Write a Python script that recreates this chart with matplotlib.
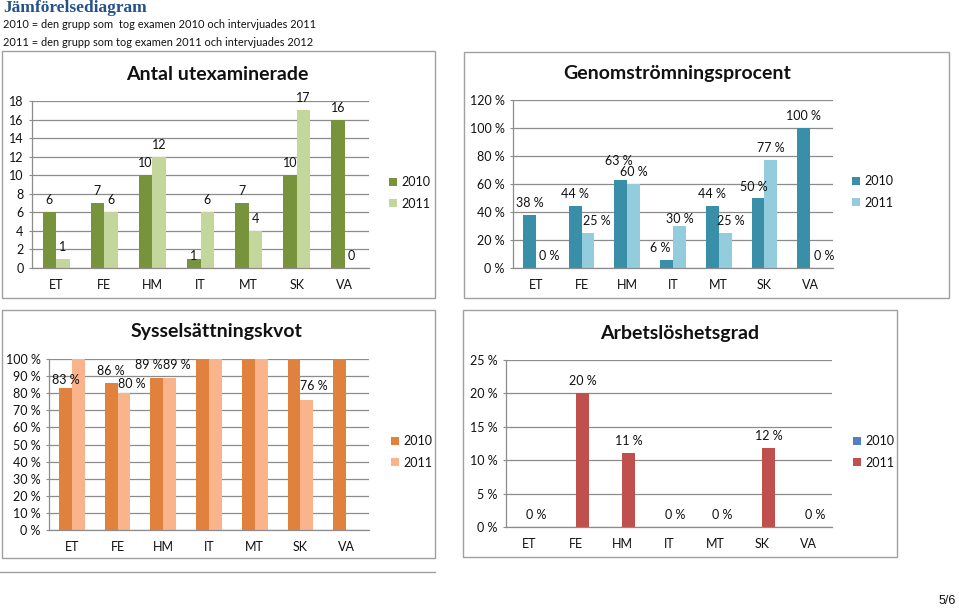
import numpy as np
import matplotlib
matplotlib.use("Agg")
import matplotlib.pyplot as plt
from matplotlib.patches import Rectangle
from matplotlib.lines import Line2D
from matplotlib.ticker import FuncFormatter

plt.rcParams['font.family'] = ['Lato', 'DejaVu Sans']

# ---------------- data ----------------
categories = ["ET", "FE", "HM", "IT", "MT", "SK", "VA"]
series_names = ["2010", "2011"]

antal_2010 = [6, 7, 10, 1, 7, 10, 16]
antal_2011 = [1, 6, 12, 6, 4, 17, 0]

genom_2010 = [38, 44, 63, 6, 44, 50, 100]
genom_2011 = [0, 25, 60, 30, 25, 77, 0]

syssel_2010 = [83, 86, 89, 100, 100, 100, 100]
syssel_2011 = [100, 80, 89, 100, 100, 76, np.nan]

arbets_2010 = [np.nan, np.nan, np.nan, np.nan, np.nan, np.nan, np.nan]
arbets_2011 = [0, 20, 11.1, 0, 0, 11.8, 0]

header_title = "Jämförelsediagram"
header_line1 = "2010 = den grupp som  tog examen 2010 och intervjuades 2011"
header_line2 = "2011 = den grupp som tog examen 2011 och intervjuades 2012"

# ---------------- layout helpers ----------------
W, H = 959, 610
DPI = 100
fig = plt.figure(figsize=(W / DPI, H / DPI), dpi=DPI)
fig.patch.set_facecolor("white")

GRID = "#8c8c8c"
BOX = "#a0a0a0"
TXT = "#111111"


def fx(x):
    return x / W


def fy(y):
    return 1 - y / H


def add_box(l, t, r, b):
    fig.patches.append(Rectangle((fx(l), fy(b)), (r - l) / W, (b - t) / H,
                                 transform=fig.transFigure, fill=False,
                                 ec=BOX, lw=1.0))


def chart(rect, box, title, title_xy, v1, v2, colors, ymax, ystep, pct,
          label_filter, offsets, legend_xy):
    l, t, r, b = rect
    add_box(*box)
    ax = fig.add_axes([fx(l), fy(b), (r - l) / W, (b - t) / H])
    x = np.arange(len(categories))
    w = 0.28
    bars1 = ax.bar(x - w / 2, v1, w, color=colors[0], label=series_names[0], zorder=2)
    bars2 = ax.bar(x + w / 2, v2, w, color=colors[1], label=series_names[1], zorder=2)
    ax.set_xlim(-0.5, len(categories) - 0.5)
    ax.set_ylim(0, ymax)
    ax.set_yticks(np.arange(0, ymax + ystep / 2, ystep))
    if pct:
        ax.yaxis.set_major_formatter(FuncFormatter(lambda v, p: f"{v:.0f} %"))
    else:
        ax.yaxis.set_major_formatter(FuncFormatter(lambda v, p: f"{v:.0f}"))
    ax.set_xticks(x)
    ax.set_xticklabels(categories)
    ax.tick_params(axis='x', length=0, pad=8, labelsize=9, colors=TXT)
    ax.tick_params(axis='y', length=2.5, width=0.8, color=GRID, pad=3.5,
                   labelsize=9, labelcolor=TXT)
    ax.grid(axis='y', color=GRID, lw=0.9, zorder=0)
    ax.set_axisbelow(True)
    for s in ("top", "right"):
        ax.spines[s].set_visible(False)
    for s in ("left", "bottom"):
        ax.spines[s].set_color(GRID)
        ax.spines[s].set_linewidth(0.9)
    ax.patch.set_alpha(0)

    # data labels
    for si, (bars, vals) in enumerate(((bars1, v1), (bars2, v2))):
        for ci, (bar, v) in enumerate(zip(bars, vals)):
            if v is None or (isinstance(v, float) and np.isnan(v)):
                continue
            if not label_filter(si, v):
                continue
            dx, dy = offsets.get((si, ci), (0, 0))
            txt = f"{v:.0f} %" if pct else f"{v:.0f}"
            ax.annotate(txt, (bar.get_x() + bar.get_width() / 2, v),
                        xytext=(dx, 12 + dy), textcoords='offset pixels',
                        ha='center', va='center', fontsize=9, color=TXT,
                        annotation_clip=False)

    fig.text(fx(title_xy[0]), fy(title_xy[1]), title, ha='center', va='center',
             fontsize=14, fontweight='bold', color=TXT)

    leg = ax.legend(loc='center left', bbox_to_anchor=(fx(legend_xy[0]), fy(legend_xy[1])),
                    bbox_transform=fig.transFigure, frameon=False, fontsize=9,
                    handlelength=0.65, handleheight=0.65, handletextpad=0.35,
                    labelspacing=0.75, borderaxespad=0, borderpad=0)
    for tx in leg.get_texts():
        tx.set_color(TXT)
    return ax


# ---------------- header ----------------
fig.text(fx(3), fy(8.5), header_title, ha='left', va='center', fontsize=12.5,
         fontweight='bold', color="#24528a", family=['Liberation Serif', 'DejaVu Serif'])
fig.text(fx(3), fy(25), header_line1, ha='left', va='center', fontsize=7.9, color=TXT)
fig.text(fx(3), fy(42), header_line2, ha='left', va='center', fontsize=7.9, color=TXT)

# ---------------- charts ----------------
chart((32, 101, 369, 268), (2, 51, 435, 298), "Antal utexaminerade", (217, 74),
      antal_2010, antal_2011, ("#77933c", "#c3d69b"), 18, 2, False,
      lambda si, v: True, {(0, 3): (0, -9)}, (389, 193))

chart((513, 100, 833, 268), (464, 52, 949, 298), "Genomströmningsprocent", (677, 73),
      genom_2010, genom_2011, ("#3a8fa8", "#93cddd"), 120, 20, True,
      lambda si, v: True,
      {(1, 0): (7, 0), (1, 1): (9, 0), (0, 2): (-2, 7), (0, 3): (-6, 0),
       (1, 3): (0, -5), (1, 4): (6, 0), (0, 5): (-4, -1), (1, 6): (8, 0)},
      (852, 192))

chart((49, 359, 369, 530), (2, 310, 435, 558), "Sysselsättningskvot", (217, 332),
      syssel_2010, syssel_2011, ("#e0823d", "#f9b48c"), 100, 10, True,
      lambda si, v: v < 100,
      {(0, 0): (0, -4), (1, 1): (8, -3), (0, 2): (-8, 1), (1, 2): (7, 1),
       (1, 5): (7, 2)},
      (391, 452))

chart((506, 360, 832, 527), (463, 310, 897, 557), "Arbetslöshetsgrad", (680, 333),
      arbets_2010, arbets_2011, ("#4f81bd", "#c0504d"), 25, 5, True,
      lambda si, v: True, {}, (853, 452))

# bottom fragments
fig.add_artist(Line2D([fx(0), fx(435)], [fy(572), fy(572)], transform=fig.transFigure,
                      color=BOX, lw=1.0))
fig.text(fx(956), fy(601), "5/6", ha='right', va='center', fontsize=9, color=TXT,
         family=['Liberation Sans Narrow', 'Liberation Sans', 'DejaVu Sans'])

fig.savefig("out.png", dpi=DPI, facecolor="white")
